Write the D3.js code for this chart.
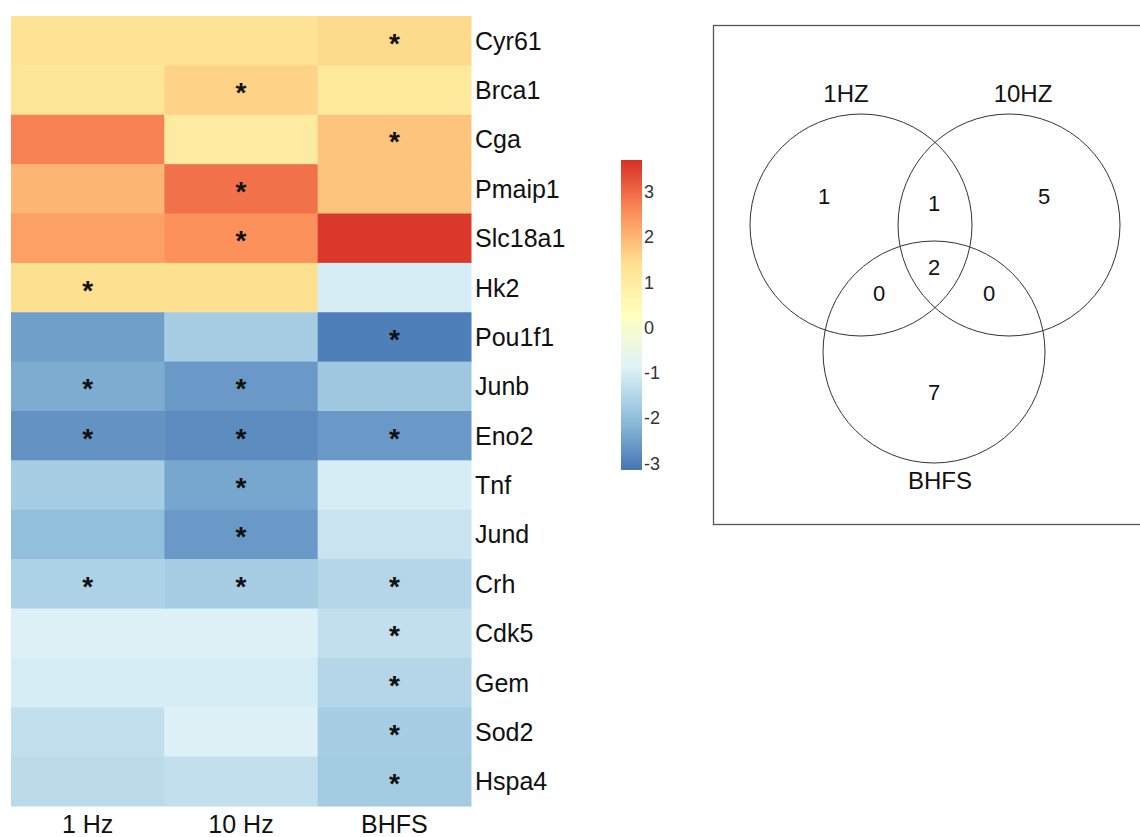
<!DOCTYPE html>
<html><head><meta charset="utf-8">
<script src="https://cdn.jsdelivr.net/npm/d3@7"></script>
<style>body{margin:0;background:#fff}svg{display:block;font-family:"Liberation Sans",Arial,sans-serif}</style>
</head><body><svg id="c" width="1140" height="837"></svg>
<script>
const genes = ["Cyr61","Brca1","Cga","Pmaip1","Slc18a1","Hk2","Pou1f1","Junb","Eno2","Tnf","Jund","Crh","Cdk5","Gem","Sod2","Hspa4"];
const conditions = ["1 Hz","10 Hz","BHFS"];
const val1Hz  = [1.3, 1.2, 2.7, 2.0, 2.3, 1.4, -2.5, -2.3, -2.7, -1.7, -2.0, -1.6, -0.9, -1.0, -1.3, -1.4];
const val10Hz = [1.3, 1.6, 1.0, 2.9, 2.5, 1.4, -1.7, -2.6, -2.8, -2.4, -2.6, -1.7, -0.9, -1.0, -0.9, -1.3];
const valBHFS = [1.5, 1.1, 1.8, 1.8, 3.6, -1.0, -3.0, -1.8, -2.6, -1.0, -1.2, -1.5, -1.3, -1.5, -1.7, -1.75];
const sig1Hz  = [0,0,0,0,0,1,0,1,1,0,0,1,0,0,0,0];
const sig10Hz = [0,1,0,1,1,0,0,1,1,1,1,1,0,0,0,0];
const sigBHFS = [1,0,1,0,0,0,1,0,1,0,0,1,1,1,1,1];
const legendTicks = [3,2,1,0,-1,-2,-3];
const vennSets = ["1HZ","10HZ","BHFS"];
const vennCounts = [
  {label:"1", region:"A"}, {label:"5", region:"B"}, {label:"7", region:"C"},
  {label:"1", region:"AB"}, {label:"0", region:"AC"}, {label:"0", region:"BC"}, {label:"2", region:"ABC"}
];

const palette = ["#4575B4","#91BFDB","#E0F3F8","#FFFFBF","#FEE090","#FC8D59","#D73027"];
const vmin = -3.15, vmax = 3.7;
const color = d3.scaleLinear()
  .domain(d3.range(7).map(i => vmin + i*(vmax-vmin)/6))
  .range(palette).interpolate(d3.interpolateRgb);

const svg = d3.select("#c");
const values = [val1Hz, val10Hz, valBHFS];
const sigs = [sig1Hz, sig10Hz, sigBHFS];

const x = d3.scaleBand().domain(conditions).range([11, 471]);
const y = d3.scaleBand().domain(genes).range([16, 806]);

const cells = [];
conditions.forEach((c, j) => genes.forEach((g, i) => cells.push({c, g, v: values[j][i], s: sigs[j][i]})));

svg.append("g").selectAll("rect").data(cells).join("rect")
  .attr("x", d => x(d.c)).attr("y", d => y(d.g))
  .attr("width", x.bandwidth()+0.5).attr("height", y.bandwidth()+0.5)
  .attr("fill", d => color(d.v));

svg.append("g").selectAll("text").data(cells.filter(d => d.s)).join("text")
  .attr("x", d => x(d.c) + x.bandwidth()/2)
  .attr("y", d => y(d.g) + y.bandwidth()/2 + 12)
  .attr("text-anchor","middle").attr("font-size", 28).attr("font-weight","bold")
  .attr("fill","#111").text("*");

svg.append("g").selectAll("text").data(genes).join("text")
  .attr("x", 475).attr("y", d => y(d) + y.bandwidth()/2)
  .attr("dy","0.36em").attr("font-size", 25).attr("fill","#111").text(d => d);

svg.append("g").selectAll("text").data(conditions).join("text")
  .attr("x", d => x(d) + x.bandwidth()/2).attr("y", 833)
  .attr("text-anchor","middle").attr("font-size", 25).attr("fill","#111").text(d => d);

// color legend
const ly = d3.scaleLinear().domain([vmin, vmax]).range([470, 160]);
const defs = svg.append("defs");
const grad = defs.append("linearGradient").attr("id","g").attr("x1",0).attr("x2",0).attr("y1",1).attr("y2",0);
palette.forEach((p,i) => grad.append("stop").attr("offset", i/6).attr("stop-color", p));
svg.append("rect").attr("x",621).attr("y",ly(vmax)).attr("width",21).attr("height",ly(vmin)-ly(vmax)).attr("fill","url(#g)");
svg.append("g").selectAll("text").data(legendTicks).join("text")
  .attr("x", 644).attr("y", d => ly(d)).attr("dy","0.36em")
  .attr("font-size", 18).attr("fill","#333").text(d => d);

// Venn
svg.append("rect").attr("x",713.5).attr("y",25.5).attr("width",440).attr("height",499)
  .attr("fill","none").attr("stroke","#555").attr("stroke-width",1.3);
const circles = [{cx:861, cy:225, r:111},{cx:1009, cy:225, r:111},{cx:934, cy:352, r:111}];
svg.append("g").selectAll("circle").data(circles).join("circle")
  .attr("cx",d=>d.cx).attr("cy",d=>d.cy).attr("r",d=>d.r)
  .attr("fill","none").attr("stroke","#333").attr("stroke-width",1);
const setLabelPos = [[846,93],[1023,93],[940,480]];
svg.append("g").selectAll("text").data(vennSets).join("text")
  .attr("x",(d,i)=>setLabelPos[i][0]).attr("y",(d,i)=>setLabelPos[i][1]).attr("dy","0.36em")
  .attr("text-anchor","middle").attr("font-size",24).attr("fill","#111").text(d=>d);
const regionPos = {A:[824,196], B:[1044,196], C:[934,392], AB:[934,203], AC:[879,293], BC:[989,293], ABC:[934,267]};
svg.append("g").selectAll("text").data(vennCounts).join("text")
  .attr("x",d=>regionPos[d.region][0]).attr("y",d=>regionPos[d.region][1]).attr("dy","0.36em")
  .attr("text-anchor","middle").attr("font-size",22).attr("fill","#111").text(d=>d.label);
</script></body></html>
